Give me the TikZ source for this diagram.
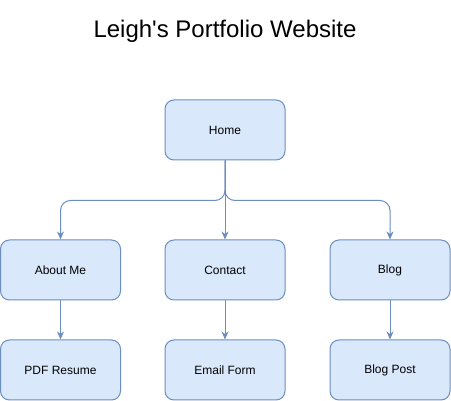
\documentclass[tikz,border=0pt]{standalone}
\usepackage{fontspec}
\setmainfont{Liberation Sans}
\usetikzlibrary{shapes,arrows.meta}

\definecolor{boxfill}{HTML}{DAE8FC}
\definecolor{boxline}{HTML}{6C8EBF}

\tikzset{
    page/.style={draw=boxline, fill=boxfill, line width=1pt, rounded corners=9pt,
        minimum width=120pt, minimum height=60pt, font=\fontsize{12}{14}\selectfont},
    link/.style={draw=boxline, line width=1pt, rounded corners=10pt,
        -{Stealth[length=8pt, width=7pt, inset=2.5pt]}}
}

\begin{document}
\begin{tikzpicture}[x=1pt, y=-1pt]
    \useasboundingbox (0,0) rectangle (451,401);
    \node (title) at (225,31) {\fontsize{24}{28}\selectfont Leigh\textquotesingle s Portfolio Website};
    \node[page] (home) at (225,130) {Home};
    \node[page] (about) at (60.5,270) {About Me};
    \node[page] (contact) at (225,270) {Contact};
    \node[page] (blog) at (390,270) {Blog};
    \node[page] (resume) at (60.5,370) {PDF Resume};
    \node[page] (email) at (225,370) {Email Form};
    \node[page] (post) at (390,370) {Blog Post};
    % Home to second row
    \draw[link] (home.south) -- ++(0,40) -| (about.north);
    \draw[link] (home.south) -- (contact.north);
    \draw[link] (home.south) -- ++(0,40) -| (blog.north);
    % second row to third row
    \draw[link] (about.south) -- (resume.north);
    \draw[link] (contact.south) -- (email.north);
    \draw[link] (blog.south) -- (post.north);
\end{tikzpicture}
\end{document}
